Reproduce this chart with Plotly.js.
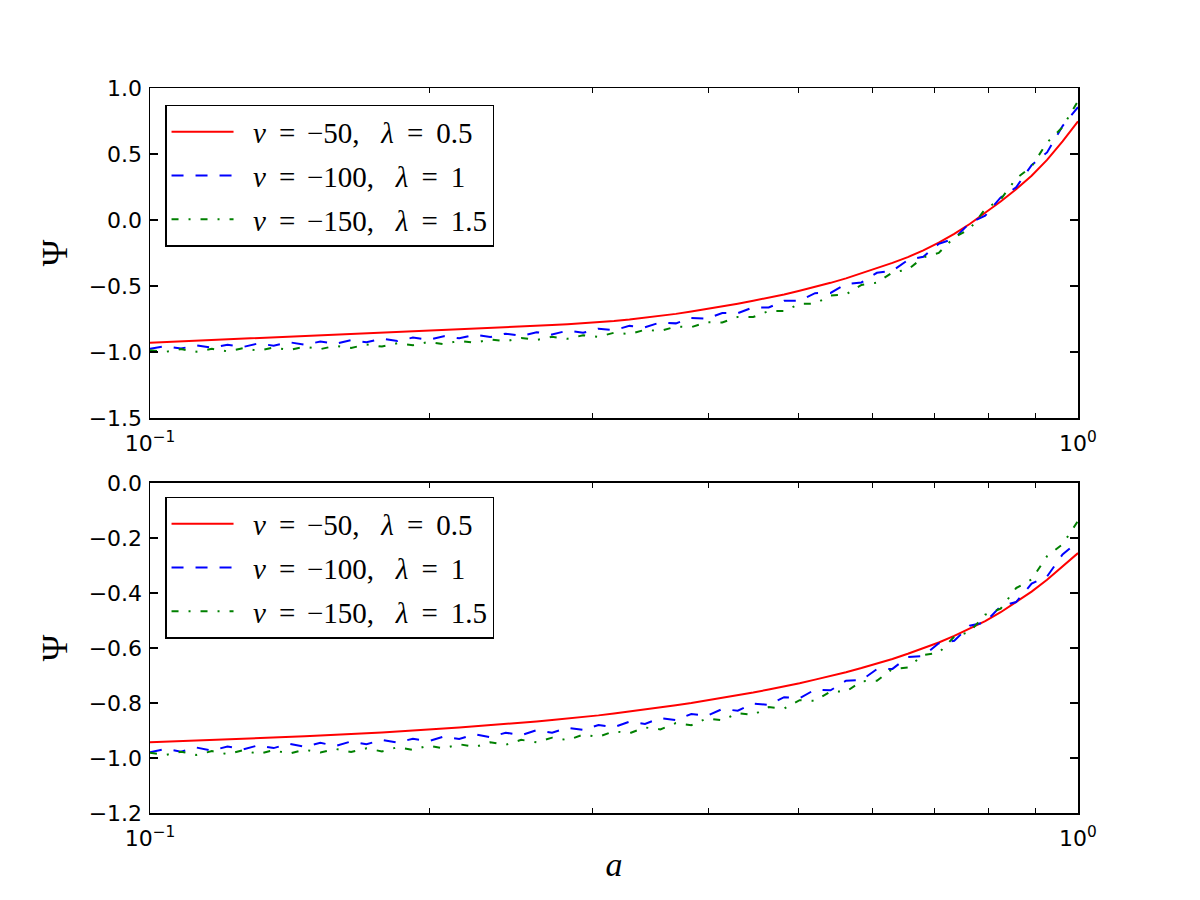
<!DOCTYPE html>
<html><head><meta charset="utf-8">
<script src="https://cdn.plot.ly/plotly-3.0.1.min.js"></script>
<style>body{margin:0;background:#fff}#chart{width:1200px;height:900px}</style>
</head><body><div id="chart"></div>
<script>
// scale factor a (log axis)
const a = [0.1000,0.1039,0.1080,0.1122,0.1166,0.1212,0.1259,0.1308,0.1359,0.1413,0.1468,0.1526,0.1585,0.1647,0.1711,0.1778,0.1848,0.1920,0.1995,0.2073,0.2154,0.2239,0.2326,0.2417,0.2512,0.2610,0.2712,0.2818,0.2929,0.3043,0.3162,0.3286,0.3415,0.3548,0.3687,0.3831,0.3981,0.4137,0.4299,0.4467,0.4642,0.4823,0.5012,0.5208,0.5412,0.5623,0.5843,0.6072,0.6310,0.6556,0.6813,0.7079,0.7356,0.7644,0.7943,0.8254,0.8577,0.8913,0.9261,0.9624,1.0000];

// top panel
const topNu50 = [-0.930,-0.925,-0.920,-0.915,-0.909,-0.904,-0.899,-0.894,-0.889,-0.884,-0.879,-0.874,-0.869,-0.864,-0.859,-0.854,-0.849,-0.844,-0.839,-0.834,-0.830,-0.825,-0.820,-0.814,-0.808,-0.802,-0.796,-0.789,-0.782,-0.774,-0.765,-0.754,-0.741,-0.727,-0.711,-0.693,-0.675,-0.655,-0.634,-0.612,-0.589,-0.564,-0.536,-0.507,-0.476,-0.442,-0.405,-0.366,-0.325,-0.281,-0.230,-0.172,-0.105,-0.030,0.053,0.140,0.233,0.336,0.455,0.595,0.748];
const topNu100 = [-0.976,-0.956,-0.974,-0.949,-0.968,-0.945,-0.962,-0.935,-0.952,-0.926,-0.945,-0.921,-0.938,-0.910,-0.926,-0.899,-0.917,-0.891,-0.908,-0.880,-0.896,-0.869,-0.887,-0.861,-0.878,-0.850,-0.868,-0.838,-0.854,-0.823,-0.835,-0.802,-0.812,-0.776,-0.783,-0.742,-0.748,-0.704,-0.706,-0.661,-0.663,-0.612,-0.611,-0.554,-0.552,-0.485,-0.473,-0.400,-0.385,-0.304,-0.278,-0.180,-0.141,-0.023,0.032,0.171,0.247,0.416,0.512,0.712,0.855];
const topNu150 = [-0.986,-0.999,-0.978,-0.998,-0.976,-0.995,-0.972,-0.990,-0.966,-0.984,-0.961,-0.978,-0.953,-0.969,-0.943,-0.959,-0.933,-0.949,-0.924,-0.940,-0.915,-0.930,-0.904,-0.919,-0.893,-0.909,-0.885,-0.900,-0.873,-0.885,-0.854,-0.864,-0.832,-0.841,-0.807,-0.812,-0.774,-0.776,-0.734,-0.735,-0.690,-0.689,-0.636,-0.633,-0.573,-0.564,-0.492,-0.475,-0.397,-0.376,-0.283,-0.249,-0.132,-0.068,0.082,0.156,0.314,0.405,0.587,0.703,0.902];

// bottom panel
const botNu50 = [-0.943,-0.941,-0.939,-0.937,-0.935,-0.932,-0.930,-0.928,-0.926,-0.923,-0.921,-0.918,-0.916,-0.913,-0.910,-0.907,-0.904,-0.901,-0.897,-0.893,-0.889,-0.885,-0.881,-0.877,-0.872,-0.867,-0.862,-0.857,-0.851,-0.845,-0.838,-0.831,-0.824,-0.816,-0.808,-0.800,-0.791,-0.782,-0.772,-0.762,-0.751,-0.740,-0.728,-0.715,-0.702,-0.688,-0.673,-0.657,-0.640,-0.621,-0.601,-0.580,-0.556,-0.530,-0.502,-0.470,-0.434,-0.395,-0.352,-0.305,-0.255];
const botNu100 = [-0.979,-0.967,-0.977,-0.962,-0.973,-0.958,-0.969,-0.954,-0.964,-0.948,-0.959,-0.945,-0.956,-0.940,-0.950,-0.934,-0.944,-0.930,-0.939,-0.922,-0.931,-0.914,-0.924,-0.908,-0.917,-0.899,-0.908,-0.890,-0.898,-0.880,-0.888,-0.868,-0.876,-0.855,-0.862,-0.840,-0.847,-0.822,-0.828,-0.802,-0.807,-0.779,-0.783,-0.751,-0.754,-0.719,-0.717,-0.677,-0.676,-0.633,-0.629,-0.583,-0.574,-0.519,-0.507,-0.448,-0.433,-0.366,-0.340,-0.260,-0.213];
const botNu150 = [-0.981,-0.989,-0.977,-0.989,-0.975,-0.986,-0.972,-0.985,-0.972,-0.984,-0.970,-0.980,-0.967,-0.978,-0.965,-0.976,-0.961,-0.971,-0.955,-0.965,-0.950,-0.960,-0.943,-0.952,-0.934,-0.943,-0.926,-0.935,-0.915,-0.923,-0.903,-0.910,-0.889,-0.896,-0.873,-0.881,-0.856,-0.863,-0.837,-0.843,-0.815,-0.820,-0.790,-0.792,-0.758,-0.759,-0.721,-0.719,-0.676,-0.671,-0.625,-0.618,-0.559,-0.541,-0.479,-0.457,-0.382,-0.351,-0.266,-0.223,-0.138];

const seriesLabels = [
  '\u2002<i>ν</i>\u00a0\u2009=\u2009\u2009−50,\u00a0\u00a0\u00a0<i>λ</i>\u00a0\u2009=\u00a0\u20090.5',
  '\u2002<i>ν</i>\u00a0\u2009=\u2009\u2009−100,\u00a0\u00a0\u00a0<i>λ</i>\u00a0\u2009=\u00a0\u20091',
  '\u2002<i>ν</i>\u00a0\u2009=\u2009\u2009−150,\u00a0\u00a0\u00a0<i>λ</i>\u00a0\u2009=\u00a0\u20091.5'
];
const xTickVals = [0.1, 1];
const xTickText = ['10<sup>−1</sup>', '10<sup>0</sup>'];
const xMinorVals = [0.2,0.3,0.4,0.5,0.6,0.7,0.8,0.9];
const yTopVals = [-1.5,-1.0,-0.5,0.0,0.5,1.0];
const yTopText = ['−1.5','−1.0','−0.5','0.0','0.5','1.0'];
const yBotVals = [-1.2,-1.0,-0.8,-0.6,-0.4,-0.2,0.0];
const yBotText = ['−1.2','−1.0','−0.8','−0.6','−0.4','−0.2','0.0'];

const styles = [
  {color:'#ff0000', width:2, dash:'solid'},
  {color:'#0000ff', width:2, dash:'12px,12px'},
  {color:'#008000', width:2, dash:'7px,10px,2px,10px'}
];

const topSeries = [topNu50, topNu100, topNu150];
const botSeries = [botNu50, botNu100, botNu150];
const traces = [];
topSeries.forEach((ys, k) => traces.push({
  x: a, y: ys, xaxis:'x', yaxis:'y', type:'scatter', mode:'lines',
  name: seriesLabels[k], line: styles[k], legend:'legend', legendgroup:'t'+k
}));
botSeries.forEach((ys, k) => traces.push({
  x: a, y: ys, xaxis:'x2', yaxis:'y2', type:'scatter', mode:'lines',
  name: seriesLabels[k], line: styles[k], legend:'legend2', legendgroup:'b'+k
}));

const tickFont = {family:'DejaVu Sans', size:22, color:'#000'};
function xAxis(anchor, withTitle) {
  const ax = {
    type:'log', range:[-1,0], anchor: anchor, domain:[0,1],
    tickvals: xTickVals, ticktext: xTickText,
    ticks:'inside', ticklen:8, tickwidth:1.2, tickcolor:'#000',
    showline:true, linecolor:'#000', linewidth:1.5, mirror:'ticks',
    showgrid:false, zeroline:false, tickfont: tickFont, ticklabelstandoff:5,
    minor:{tickvals: xMinorVals, ticks:'inside', ticklen:5, tickwidth:1, tickcolor:'#000', showgrid:false}
  };
  if (withTitle) ax.title = {text:'<i>a</i>', font:{family:'Liberation Serif', size:34, color:'#000'}, standoff:2};
  return ax;
}
function yAxis(anchor, dom, rng, vals, text) {
  return {
    anchor: anchor, domain: dom, range: rng,
    tickvals: vals, ticktext: text,
    ticks:'inside', ticklen:8, tickwidth:1.2, tickcolor:'#000',
    showline:true, linecolor:'#000', linewidth:1.5, mirror:'ticks',
    showgrid:false, zeroline:false, tickfont: tickFont, ticklabelstandoff:2,
    title:{text:'Ψ', font:{family:'Liberation Serif', size:36, color:'#000'}, standoff:10}
  };
}
const legendBase = {
  xanchor:'left', yanchor:'top', bgcolor:'#fff', bordercolor:'#000', borderwidth:1.5,
  font:{family:'Liberation Serif', size:29, color:'#000'},
  traceorder:'grouped', tracegroupgap:3, itemwidth:62
};
const layout = {
  width:1200, height:900,
  margin:{l:150, r:122, t:88, b:87},
  paper_bgcolor:'#fff', plot_bgcolor:'#fff',
  showlegend:true,
  xaxis: xAxis('y', false),
  yaxis: yAxis('x', [0.5448,1], [-1.5,1.0], yTopVals, yTopText),
  xaxis2: xAxis('y2', true),
  yaxis2: yAxis('x2', [0,0.4552], [-1.2,0.0], yBotVals, yBotText),
  legend: Object.assign({x:0.0162, y:0.9766}, legendBase),
  legend2: Object.assign({x:0.0162, y:0.4359}, legendBase)
};
Plotly.newPlot('chart', traces, layout, {displayModeBar:false, staticPlot:true});
</script>
</body></html>
